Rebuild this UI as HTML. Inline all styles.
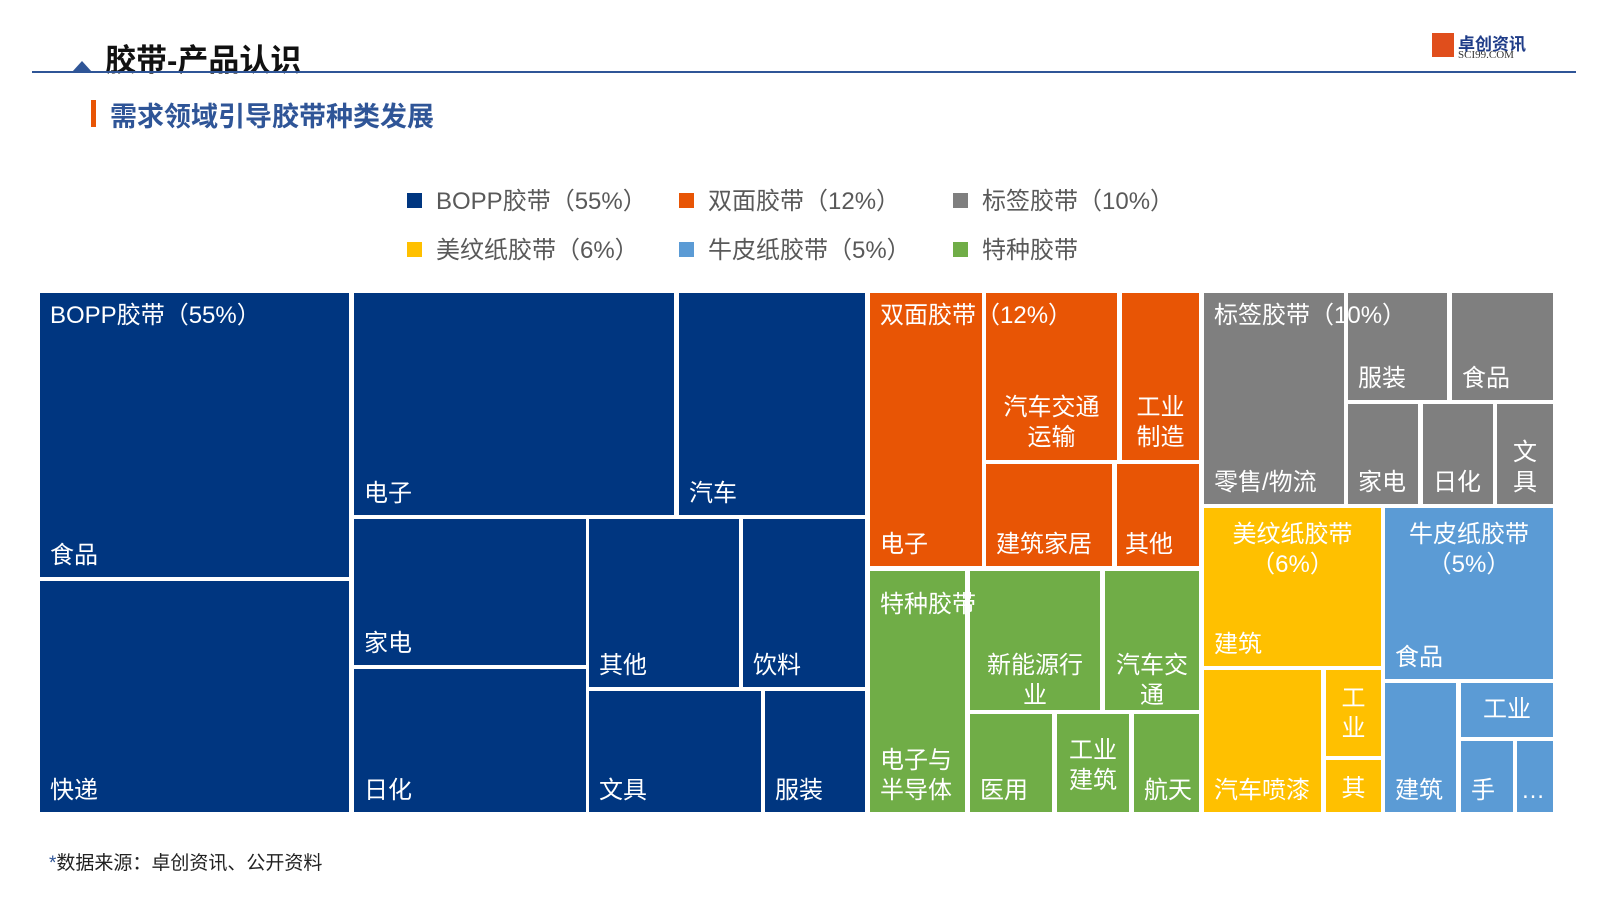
<!DOCTYPE html>
<html><head><meta charset="utf-8"><style>
body{margin:0;width:1600px;height:900px;background:#fff;position:relative;overflow:hidden;font-family:"Liberation Sans","Noto Sans CJK SC",sans-serif}
.c{position:absolute;color:#fff;font-size:24px;line-height:30px;box-sizing:border-box}
.b{background:#003680}.o{background:#e85505}.g{background:#7f7f7f}.y{background:#ffc000}.l{background:#5b9bd5}.gr{background:#70ad47}
.bl{position:absolute;left:10px;bottom:6px;white-space:nowrap}
.tl{position:absolute;left:10px;top:8px;white-space:nowrap}
.ct{position:absolute;left:0;right:0;text-align:center}
.lg{position:absolute;font-size:24px;color:#595959;white-space:nowrap}
.lg i{display:inline-block;width:15px;height:15px;margin-right:14px;vertical-align:1px}
</style></head><body>
<div style="position:absolute;left:105px;top:35px;font-size:31px;color:#111;font-weight:bold">胶带-产品认识</div>
<div style="position:absolute;left:32px;top:71px;width:1544px;height:2px;background:#2f5597"></div>
<div style="position:absolute;left:72px;top:61px;width:0;height:0;border-left:10px solid transparent;border-right:10px solid transparent;border-bottom:11px solid #2f5597"></div>
<div style="position:absolute;left:1432px;top:33px;width:22px;height:24px;background:#e04e1c"></div>
<div style="position:absolute;left:1458px;top:30px;font-size:17px;font-weight:bold;color:#1f3c88">卓创资讯</div>
<div style="position:absolute;left:1458px;top:49px;font-size:11px;color:#333;font-family:'Liberation Serif',serif">SCI99.COM</div>
<div style="position:absolute;left:91px;top:100px;width:5px;height:27px;background:#e85505"></div>
<div style="position:absolute;left:110px;top:95px;font-size:27px;font-weight:bold;color:#2f5597">需求领域引导胶带种类发展</div>

<div class="lg" style="left:407px;top:181px"><i style="background:#003680"></i>BOPP胶带（55%）</div>
<div class="lg" style="left:679px;top:181px"><i style="background:#e85505"></i>双面胶带（12%）</div>
<div class="lg" style="left:953px;top:181px"><i style="background:#7f7f7f"></i>标签胶带（10%）</div>
<div class="lg" style="left:407px;top:230px"><i style="background:#ffc000"></i>美纹纸胶带（6%）</div>
<div class="lg" style="left:679px;top:230px"><i style="background:#5b9bd5"></i>牛皮纸胶带（5%）</div>
<div class="lg" style="left:953px;top:230px"><i style="background:#70ad47"></i>特种胶带</div>

<!-- BOPP -->
<div class="c b" style="left:40px;top:293px;width:309px;height:284px"><span class="tl">BOPP胶带（55%）</span><span class="bl">食品</span></div>
<div class="c b" style="left:40px;top:581px;width:309px;height:231px"><span class="bl">快递</span></div>
<div class="c b" style="left:354px;top:293px;width:320px;height:222px"><span class="bl">电子</span></div>
<div class="c b" style="left:679px;top:293px;width:186px;height:222px"><span class="bl">汽车</span></div>
<div class="c b" style="left:354px;top:519px;width:232px;height:146px"><span class="bl">家电</span></div>
<div class="c b" style="left:354px;top:669px;width:232px;height:143px"><span class="bl">日化</span></div>
<div class="c b" style="left:589px;top:519px;width:150px;height:168px"><span class="bl">其他</span></div>
<div class="c b" style="left:743px;top:519px;width:122px;height:168px"><span class="bl">饮料</span></div>
<div class="c b" style="left:589px;top:691px;width:172px;height:121px"><span class="bl">文具</span></div>
<div class="c b" style="left:765px;top:691px;width:100px;height:121px"><span class="bl">服装</span></div>

<!-- orange -->
<div class="c o" style="left:870px;top:293px;width:112px;height:273px"><span class="bl">电子</span></div>
<div class="c o" style="left:986px;top:293px;width:131px;height:167px"><span class="ct" style="top:100px">汽车交通<br>运输</span></div>
<div class="c o" style="left:1122px;top:293px;width:77px;height:167px"><span class="ct" style="top:100px">工业<br>制造</span></div>
<div class="c o" style="left:986px;top:464px;width:126px;height:102px"><span class="bl">建筑家居</span></div>
<div class="c o" style="left:1117px;top:464px;width:82px;height:102px"><span class="bl" style="left:8px">其他</span></div>
<div class="c" style="left:880px;top:301px;white-space:nowrap">双面胶带（12%）</div>

<!-- green -->
<div class="c gr" style="left:870px;top:571px;width:95px;height:241px"><span class="bl" style="bottom:6px">电子与<br>半导体</span></div>
<div class="c gr" style="left:970px;top:571px;width:130px;height:139px"><span class="ct" style="top:80px">新能源行<br>业</span></div>
<div class="c gr" style="left:1105px;top:571px;width:94px;height:139px"><span class="ct" style="top:80px;white-space:nowrap">汽车交<br>通</span></div>
<div class="c gr" style="left:970px;top:714px;width:82px;height:98px"><span class="bl">医用</span></div>
<div class="c gr" style="left:1057px;top:714px;width:72px;height:98px"><span class="ct" style="top:22px">工业<br>建筑</span></div>
<div class="c gr" style="left:1134px;top:714px;width:65px;height:98px"><span class="bl">航天</span></div>
<div class="c" style="left:880px;top:590px;white-space:nowrap">特种胶带</div>

<!-- gray -->
<div class="c g" style="left:1204px;top:293px;width:140px;height:211px"><span class="bl">零售/物流</span></div>
<div class="c g" style="left:1348px;top:293px;width:99px;height:107px"><span class="bl">服装</span></div>
<div class="c g" style="left:1452px;top:293px;width:101px;height:107px"><span class="bl">食品</span></div>
<div class="c g" style="left:1348px;top:404px;width:70px;height:100px"><span class="bl">家电</span></div>
<div class="c g" style="left:1423px;top:404px;width:70px;height:100px"><span class="bl">日化</span></div>
<div class="c g" style="left:1497px;top:404px;width:56px;height:100px"><span class="ct" style="top:34px">文<br>具</span></div>
<div class="c" style="left:1214px;top:301px;white-space:nowrap">标签胶带（10%）</div>

<!-- yellow -->
<div class="c y" style="left:1204px;top:508px;width:177px;height:158px"><span class="ct" style="top:12px">美纹纸胶带<br>（6%）</span><span class="bl">建筑</span></div>
<div class="c y" style="left:1204px;top:670px;width:117px;height:142px"><span class="bl">汽车喷漆</span></div>
<div class="c y" style="left:1326px;top:670px;width:55px;height:86px"><span class="ct" style="top:14px">工<br>业</span></div>
<div class="c y" style="left:1326px;top:760px;width:55px;height:52px"><span class="ct" style="top:14px">其</span></div>

<!-- light blue -->
<div class="c l" style="left:1385px;top:508px;width:168px;height:171px"><span class="ct" style="top:12px">牛皮纸胶带<br>（5%）</span><span class="bl">食品</span></div>
<div class="c l" style="left:1385px;top:683px;width:71px;height:129px"><span class="bl">建筑</span></div>
<div class="c l" style="left:1461px;top:683px;width:92px;height:54px"><span class="ct" style="top:12px">工业</span></div>
<div class="c l" style="left:1461px;top:741px;width:52px;height:71px"><span class="bl">手</span></div>
<div class="c l" style="left:1517px;top:741px;width:36px;height:71px"><span class="bl" style="left:4px">…</span></div>

<div style="position:absolute;left:49px;top:848px;font-size:19px;color:#222"><span style="color:#2f5597">*</span>数据来源：卓创资讯、公开资料</div>
</body></html>
